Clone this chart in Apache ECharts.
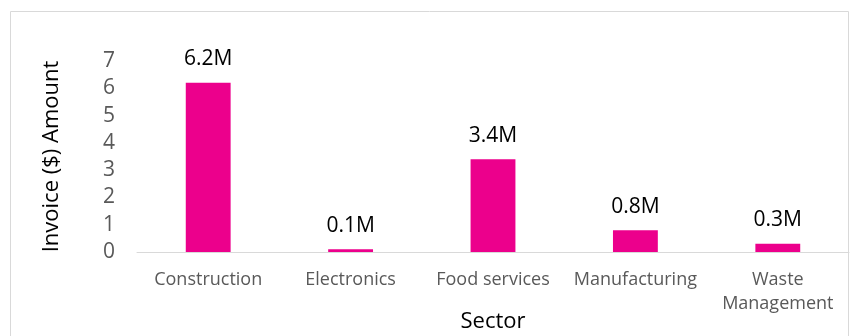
<!DOCTYPE html>
<html><head><meta charset="utf-8">
<script src="https://cdn.jsdelivr.net/npm/echarts@6/dist/echarts.min.js"></script>
<style>html,body{margin:0;padding:0;background:#fff}#c{width:851px;height:336px}</style>
</head><body><div id="c"></div>
<script>
const categories = ['Construction', 'Electronics', 'Food services', 'Manufacturing', 'Waste\nManagement'];
const values = [6.2, 0.1, 3.4, 0.8, 0.3];
const valueLabels = ['6.2M', '0.1M', '3.4M', '0.8M', '0.3M'];
const yTicks = [0, 1, 2, 3, 4, 5, 6, 7];

const chart = echarts.init(document.getElementById('c'), null, {renderer: 'canvas'});
const font = '"Open Sans", sans-serif';
chart.setOption({
  animation: false,
  graphic: [{type: 'rect', shape: {x: 10.5, y: 11.5, width: 838, height: 340}, style: {fill: 'none', stroke: '#d9d9d9', lineWidth: 1}, silent: true}],
  grid: {left: 137, right: 2, top: 61, bottom: 84, containLabel: false, outerBoundsMode: 'none'},
  xAxis: {
    type: 'category', data: categories,
    name: 'Sector', nameLocation: 'middle', nameGap: 59, nameMoveOverlap: false,
    nameTextStyle: {fontFamily: font, fontSize: 22, color: '#000'},
    axisLine: {lineStyle: {color: '#d9d9d9', width: 1}},
    axisTick: {show: false},
    axisLabel: {fontFamily: font, fontSize: 18, color: '#595959', margin: 16, lineHeight: 24, interval: 0}
  },
  yAxis: {
    type: 'value', min: yTicks[0], max: yTicks[yTicks.length - 1], interval: 1,
    name: 'Invoice ($) Amount', nameLocation: 'middle', nameGap: 74, nameMoveOverlap: false,
    nameTextStyle: {fontFamily: font, fontSize: 22, color: '#000'},
    axisLine: {show: false}, axisTick: {show: false}, splitLine: {show: false},
    axisLabel: {fontFamily: font, fontSize: 21, color: '#595959', margin: 22}
  },
  series: [{
    type: 'bar', data: values, barWidth: '31.5%',
    itemStyle: {color: '#EC008C'},
    label: {show: true, position: 'top', distance: 13, fontFamily: font, fontSize: 21, color: '#000',
      formatter: p => valueLabels[p.dataIndex]}
  }]
});
</script></body></html>
